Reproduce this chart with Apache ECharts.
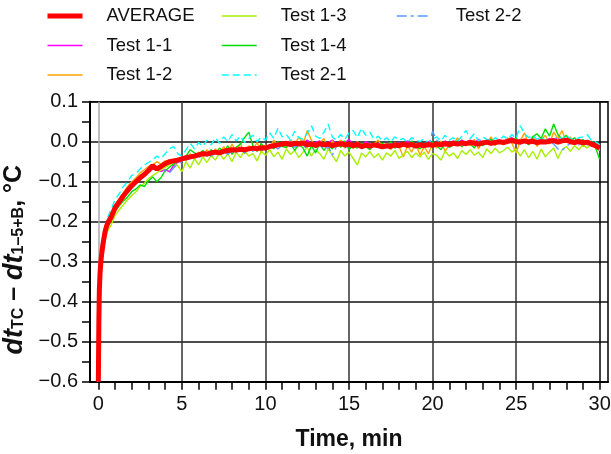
<!DOCTYPE html>
<html>
<head>
<meta charset="utf-8">
<script src="https://cdn.jsdelivr.net/npm/echarts@6/dist/echarts.min.js"></script>
<style>html,body{margin:0;padding:0;background:#fff}#c{width:611px;height:454px}</style>
</head>
<body>
<div id="c"></div>
<script>
var times = [0,0.03,0.06,0.1,0.15,0.2,0.3,0.4,0.5,0.6,0.75,0.9,1,
1.25,1.5,1.75,2, 2.25,2.5,2.75,3, 3.25,3.5,3.75,4, 4.25,4.5,4.75,5,
5.25,5.5,5.75,6, 6.25,6.5,6.75,7, 7.25,7.5,7.75,8, 8.25,8.5,8.75,9,
9.25,9.5,9.75,10, 10.25,10.5,10.75,11, 11.25,11.5,11.75,12, 12.25,12.5,12.75,13,
13.25,13.5,13.75,14, 14.25,14.5,14.75,15, 15.25,15.5,15.75,16, 16.25,16.5,16.75,17,
17.25,17.5,17.75,18, 18.25,18.5,18.75,19, 19.25,19.5,19.75,20, 20.25,20.5,20.75,21,
21.25,21.5,21.75,22, 22.25,22.5,22.75,23, 23.25,23.5,23.75,24, 24.25,24.5,24.75,25,
25.25,25.5,25.75,26, 26.25,26.5,26.75,27, 27.25,27.5,27.75,28, 28.25,28.5,28.75,29,
29.25,29.5,29.75,30];

var average = [-0.60,-0.45,-0.37,-0.33,-0.30,-0.28,-0.25,-0.225,-0.21,-0.20,-0.19,-0.175,-0.165,
-0.15,-0.135,-0.122,-0.11, -0.10,-0.09,-0.082,-0.072, -0.06,-0.068,-0.062,-0.055, -0.05,-0.048,-0.046,-0.043,
-0.04,-0.038,-0.036,-0.033, -0.03,-0.031,-0.028,-0.026, -0.028,-0.024,-0.022,-0.02, -0.021,-0.019,-0.02,-0.018,
-0.016,-0.018,-0.015,-0.016, -0.012,-0.01,-0.008,-0.006, -0.004,-0.007,-0.004,-0.006, -0.003,-0.008,-0.006,-0.009,
-0.005,-0.008,-0.006,-0.01, -0.007,-0.005,-0.008,-0.006, -0.01,-0.007,-0.012,-0.009, -0.011,-0.008,-0.01,-0.013,
-0.01,-0.012,-0.008,-0.01, -0.006,-0.009,-0.007,-0.011, -0.008,-0.01,-0.007,-0.009, -0.006,-0.008,-0.005,-0.007,
-0.004,-0.006,-0.003,-0.005, -0.002,-0.004,-0.006,-0.003, -0.001,-0.004,-0.002,0.0, -0.002,0.001,0.003,0.0,
-0.001,0.002,-0.001,0.001, -0.002,0.0,-0.001,0.001, 0.003,-0.001,0.002,0.004, 0.0,-0.002,0.001,-0.003,
-0.001,-0.006,-0.01,-0.016];

var test11 = [-0.60,-0.44,-0.36,-0.32,-0.29,-0.275,-0.245,-0.22,-0.205,-0.195,-0.185,-0.17,-0.16,
-0.148,-0.13,-0.12,-0.105, -0.098,-0.088,-0.078,-0.07, -0.062,-0.07,-0.074,-0.07, -0.075,-0.06,-0.052,-0.046,
-0.044,-0.04,-0.034,-0.036, -0.03,-0.034,-0.026,-0.03, -0.026,-0.02,-0.028,-0.018, -0.022,-0.016,-0.024,-0.014,
-0.018,-0.012,-0.02,-0.01, -0.014,-0.006,-0.01,-0.004, -0.008,0.0,-0.006,-0.002, -0.004,0.004,-0.006,-0.002,
0.002,-0.008,-0.002,0.004, -0.006,0.002,-0.004,0.006, -0.008,-0.002,-0.01,0.0, -0.006,-0.012,-0.004,-0.008,
-0.01,-0.004,-0.012,-0.002, -0.008,0.002,-0.006,-0.01, -0.004,-0.008,0.0,-0.006, -0.002,-0.008,0.002,-0.004,
0.002,-0.006,0.004,-0.002, 0.004,-0.002,0.006,-0.004, 0.002,0.008,-0.002,0.004, 0.0,0.006,0.01,0.002,
0.006,-0.002,0.004,0.008, 0.0,0.006,0.002,0.008, 0.004,0.01,0.0,0.006, 0.008,0.002,-0.004,0.004,
-0.004,0.0,-0.012,-0.022];

var test12 = [-0.60,-0.44,-0.36,-0.32,-0.29,-0.27,-0.245,-0.222,-0.207,-0.196,-0.185,-0.17,-0.158,
-0.145,-0.128,-0.112,-0.1, -0.09,-0.078,-0.07,-0.062, -0.058,-0.05,-0.056,-0.048, -0.046,-0.052,-0.044,-0.04,
-0.048,-0.03,-0.042,-0.026, -0.036,-0.02,-0.032,-0.018, -0.03,-0.012,-0.028,-0.006, -0.024,-0.004,-0.03,-0.01,
-0.02,-0.002,-0.026,-0.008, -0.018,0.004,-0.012,-0.004, -0.016,0.006,-0.008,0.012, -0.006,0.028,0.004,-0.014,
-0.004,0.008,-0.02,0.002, -0.012,0.004,-0.016,-0.002, -0.018,0.0,-0.012,-0.004, -0.02,-0.006,0.004,-0.014,
-0.008,-0.02,-0.002,-0.012, -0.038,-0.01,-0.026,-0.004, -0.034,-0.012,-0.03,-0.006, -0.016,0.002,-0.024,-0.008,
-0.004,0.01,-0.014,0.0, -0.01,0.006,-0.018,0.002, -0.006,0.012,-0.01,0.004, -0.008,0.01,-0.004,-0.028,
0.002,0.022,-0.006,0.014, -0.012,0.004,0.016,-0.006, 0.024,0.008,0.028,-0.002, 0.012,-0.008,0.006,-0.012,
0.002,-0.01,-0.004,-0.02];

var test13 = [-0.60,-0.47,-0.39,-0.35,-0.32,-0.30,-0.27,-0.245,-0.23,-0.22,-0.21,-0.195,-0.185,
-0.17,-0.158,-0.145,-0.135, -0.125,-0.112,-0.104,-0.092, -0.085,-0.078,-0.07,-0.064, -0.058,-0.052,-0.06,-0.075,
-0.05,-0.066,-0.042,-0.058, -0.038,-0.052,-0.034,-0.046, -0.028,-0.044,-0.03,-0.05, -0.026,-0.04,-0.022,-0.036,
-0.03,-0.048,-0.024,-0.034, -0.02,-0.038,-0.026,-0.044, -0.018,-0.032,-0.022,-0.04, -0.026,-0.014,-0.036,-0.02,
-0.03,-0.044,-0.018,-0.034, -0.05,-0.022,-0.036,-0.026, -0.042,-0.058,-0.028,-0.038, -0.024,-0.04,-0.03,-0.046,
-0.028,-0.036,-0.022,-0.042, -0.032,-0.024,-0.04,-0.028, -0.038,-0.026,-0.044,-0.03, -0.034,-0.046,-0.024,-0.036,
-0.028,-0.042,-0.022,-0.032, -0.02,-0.034,-0.026,-0.04, -0.018,-0.03,-0.016,-0.028, -0.022,-0.014,-0.026,-0.018,
-0.036,-0.02,-0.04,-0.024, -0.044,-0.018,-0.038,-0.026, -0.016,-0.042,-0.02,-0.012, -0.024,-0.01,-0.02,-0.008,
-0.016,-0.006,-0.014,-0.022];

var test14 = [-0.60,-0.46,-0.38,-0.34,-0.31,-0.29,-0.26,-0.235,-0.22,-0.21,-0.2,-0.185,-0.175,
-0.16,-0.148,-0.138,-0.125, -0.118,-0.108,-0.112,-0.098, -0.088,-0.1,-0.09,-0.072, -0.064,-0.056,-0.05,-0.044,
-0.036,-0.02,-0.028,-0.032, -0.022,-0.036,-0.02,-0.03, -0.016,-0.026,-0.01,-0.032, -0.014,-0.006,0.01,0.024,
-0.01,-0.024,-0.004,-0.02, -0.008,-0.018,0.0,-0.012, -0.014,-0.004,-0.022,-0.006, -0.016,-0.036,-0.01,-0.028,
-0.004,-0.022,-0.008,-0.018, -0.002,-0.014,0.002,-0.02, -0.008,-0.016,-0.004,-0.012, -0.02,-0.006,-0.014,-0.004,
-0.012,0.0,-0.016,-0.008, -0.004,-0.014,0.002,-0.01, -0.018,-0.006,-0.012,0.0, -0.01,-0.02,-0.004,-0.014,
-0.008,0.004,-0.012,-0.002, -0.006,-0.016,0.002,-0.01, -0.004,0.006,-0.008,0.002, -0.006,0.004,-0.002,0.01,
-0.004,0.006,-0.008,0.012, 0.02,0.008,0.032,0.014, 0.044,0.018,0.006,0.016, 0.002,0.01,-0.004,0.006,
-0.008,0.002,-0.014,-0.044];

var test21 = [-0.60,-0.40,-0.33,-0.29,-0.265,-0.25,-0.23,-0.215,-0.2,-0.185,-0.17,-0.155,-0.145,
-0.13,-0.112,-0.1,-0.084, -0.08,-0.068,-0.058,-0.052, -0.045,-0.036,-0.042,-0.03, -0.018,-0.012,-0.03,-0.036,
-0.02,-0.004,-0.018,-0.002, -0.012,0.004,-0.008,0.01, -0.004,0.012,0.0,0.018, 0.002,0.014,-0.002,0.008,
0.016,0.0,0.012,0.004, 0.022,0.008,0.034,0.012, 0.018,0.004,0.026,0.01, 0.006,0.02,0.04,0.014,
0.008,0.024,0.044,0.012, 0.004,0.018,0.006,0.022, 0.028,0.01,0.034,0.016, 0.024,0.006,0.014,0.002,
0.01,0.0,0.012,0.004, 0.008,-0.002,0.01,0.004, 0.0,0.008,-0.004,0.006, 0.012,0.002,0.016,0.004,
0.01,0.0,0.014,0.028, 0.008,0.02,0.002,0.012, 0.006,0.0,0.01,0.004, 0.014,0.006,0.018,0.008,
0.04,0.02,0.01,0.016, 0.006,0.012,0.002,0.01, 0.004,0.014,0.006,0.016, 0.008,0.002,0.01,0.012,
0.018,0.004,0.0,-0.008];

var test22 = [-0.60,-0.43,-0.35,-0.31,-0.28,-0.26,-0.24,-0.218,-0.205,-0.195,-0.183,-0.17,-0.16,
-0.146,-0.132,-0.118,-0.108, -0.098,-0.09,-0.08,-0.072, -0.064,-0.07,-0.066,-0.074, -0.078,-0.066,-0.056,-0.05,
-0.046,-0.042,-0.038,-0.04, -0.034,-0.03,-0.036,-0.028, -0.03,-0.024,-0.032,-0.022, -0.026,-0.018,-0.028,-0.02,
-0.024,-0.014,-0.022,-0.016, -0.016,-0.01,-0.018,-0.008, -0.012,-0.004,-0.014,-0.006, -0.01,-0.016,-0.006,-0.014,
-0.008,-0.02,-0.01,-0.034, -0.012,-0.006,-0.016,-0.008, -0.014,-0.006,-0.018,-0.01, -0.016,-0.008,-0.012,-0.02,
-0.014,-0.008,-0.016,-0.01, -0.006,-0.014,-0.008,-0.012, -0.01,-0.004,-0.014,0.026, 0.004,-0.006,-0.01,-0.002,
-0.008,-0.004,-0.01,-0.002, -0.006,0.0,-0.008,-0.004, -0.002,-0.006,0.002,-0.004, 0.0,-0.004,0.004,-0.002,
-0.006,0.002,-0.004,0.0, -0.002,0.004,-0.004,0.002, -0.006,-0.018,-0.022,-0.012, -0.004,0.002,-0.008,0.0,
-0.006,-0.002,-0.01,-0.018];

var xTicks = [0, 5, 10, 15, 20, 25, 30];
var yTicks = [-0.6, -0.5, -0.4, -0.3, -0.2, -0.1, 0.0, 0.1];

function pairs(vals) {
  var out = [];
  for (var i = 0; i < times.length && i < vals.length; i++) out.push([times[i], vals[i]]);
  return out;
}

var FONT = 'Liberation Sans, Arial, sans-serif';
var chart = echarts.init(document.getElementById('c'), null, {renderer: 'canvas'});

function testSeries(name, vals, color, type) {
  return {
    name: name, type: 'line', data: pairs(vals), xAxisIndex: 0, yAxisIndex: 0,
    showSymbol: false, symbol: 'none', animation: false, z: 3,
    lineStyle: {color: color, width: 1.4, type: type || 'solid'},
    itemStyle: {color: color}
  };
}

var legendText = {fontSize: 18.5, color: '#111', fontFamily: FONT, padding: [0, 0, 0, 19], lineHeight: 22};
function legendAt(names, left) {
  return {data: names, left: left, top: 5, padding: 0, orient: 'vertical', itemWidth: 35, itemHeight: 14,
    itemGap: 7.5, textStyle: legendText, itemStyle: {opacity: 0, borderWidth: 0},
    lineStyle: {width: 'inherit'}};
}

chart.setOption({
  animation: false,
  backgroundColor: '#fff',
  grid: [
    {left: 90, right: 3, top: 101.7, bottom: 72.3, show: true, borderColor: '#000', borderWidth: 1.5,
     backgroundColor: 'transparent', outerBoundsMode: 'none', containLabel: false},
    {left: 98.35, right: 11.3, top: 101.7, bottom: 72.3, outerBoundsMode: 'none', containLabel: false}
  ],
  legend: [
    legendAt(['AVERAGE', 'Test 1-1', 'Test 1-2'], 45),
    legendAt(['Test 1-3', 'Test 1-4', 'Test 2-1'], 221),
    legendAt(['Test 2-2'], 396)
  ],
  xAxis: [
    {gridIndex: 0, type: 'value', min: -0.5, max: 30.5,
     axisLine: {show: true, onZero: false, lineStyle: {color: '#000', width: 2}},
     axisTick: {show: false}, axisLabel: {show: false}, splitLine: {show: false}},
    {gridIndex: 1, type: 'value', min: xTicks[0], max: xTicks[xTicks.length - 1], interval: 5,
     axisLine: {show: false, onZero: false},
     axisTick: {show: true, length: 8, inside: false, lineStyle: {color: '#000', width: 1.5}},
     minorTick: {show: true, splitNumber: 5, length: 8, lineStyle: {color: '#000', width: 1.5}},
     axisLabel: {show: true, fontSize: 20, color: '#111', fontFamily: FONT, margin: 13},
     splitLine: {show: true, lineStyle: {color: ['#a8a8a8', '#333', '#333', '#333', '#333', '#333', '#000'], width: 1.5}},
     name: 'Time, min', nameLocation: 'middle', nameGap: 46,
     nameTextStyle: {fontSize: 23, fontWeight: 'bold', color: '#111', fontFamily: FONT}}
  ],
  yAxis: [
    {gridIndex: 0, type: 'value', min: yTicks[0], max: yTicks[yTicks.length - 1], interval: 0.1,
     axisLine: {show: true, onZero: false, lineStyle: {color: '#000', width: 2}},
     axisTick: {show: true, length: 8, inside: false, lineStyle: {color: '#000', width: 1.5}},
     minorTick: {show: true, splitNumber: 2, length: 8, lineStyle: {color: '#000', width: 1.5}},
     axisLabel: {show: true, fontSize: 20, color: '#111', fontFamily: FONT, margin: 12,
       formatter: function (v) { return Math.abs(v) < 1e-9 ? '0.0' : (v < 0 ? '\u2212' + (-v).toFixed(1) : v.toFixed(1)); }},
     splitLine: {show: true, lineStyle: {color: '#111', width: 1.5}},
     name: '{i|dt}{s|TC}{b| \u2013 }{i|dt}{s|1\u20135+B}{b|, °C}',
     nameLocation: 'middle', nameGap: 62,
     nameTextStyle: {
       padding: [0, 36, 0, 0],
       rich: {
         i: {fontSize: 27, fontWeight: 'bold', fontStyle: 'italic', color: '#111', fontFamily: FONT},
         s: {fontSize: 16, fontWeight: 'bold', color: '#111', fontFamily: FONT, padding: [9, 0, 0, 0]},
         b: {fontSize: 25, fontWeight: 'bold', color: '#111', fontFamily: FONT}
       }
     }},
    {gridIndex: 1, type: 'value', min: -0.6, max: 0.1, show: false}
  ],
  series: [
    testSeries('Test 1-1', test11, '#ff00ff'),
    testSeries('Test 1-2', test12, '#ffa500'),
    testSeries('Test 1-3', test13, '#a6f000'),
    testSeries('Test 1-4', test14, '#00dd00'),
    testSeries('Test 2-1', test21, '#00ffff', [7, 4]),
    testSeries('Test 2-2', test22, '#5599ff', [10, 4, 3, 4]),
    {name: 'AVERAGE', type: 'line', data: pairs(average), xAxisIndex: 0, yAxisIndex: 0,
     showSymbol: false, symbol: 'none', z: 5,
     lineStyle: {color: '#ff0000', width: 5}, itemStyle: {color: '#ff0000'}}
  ]
});
</script>
</body>
</html>
